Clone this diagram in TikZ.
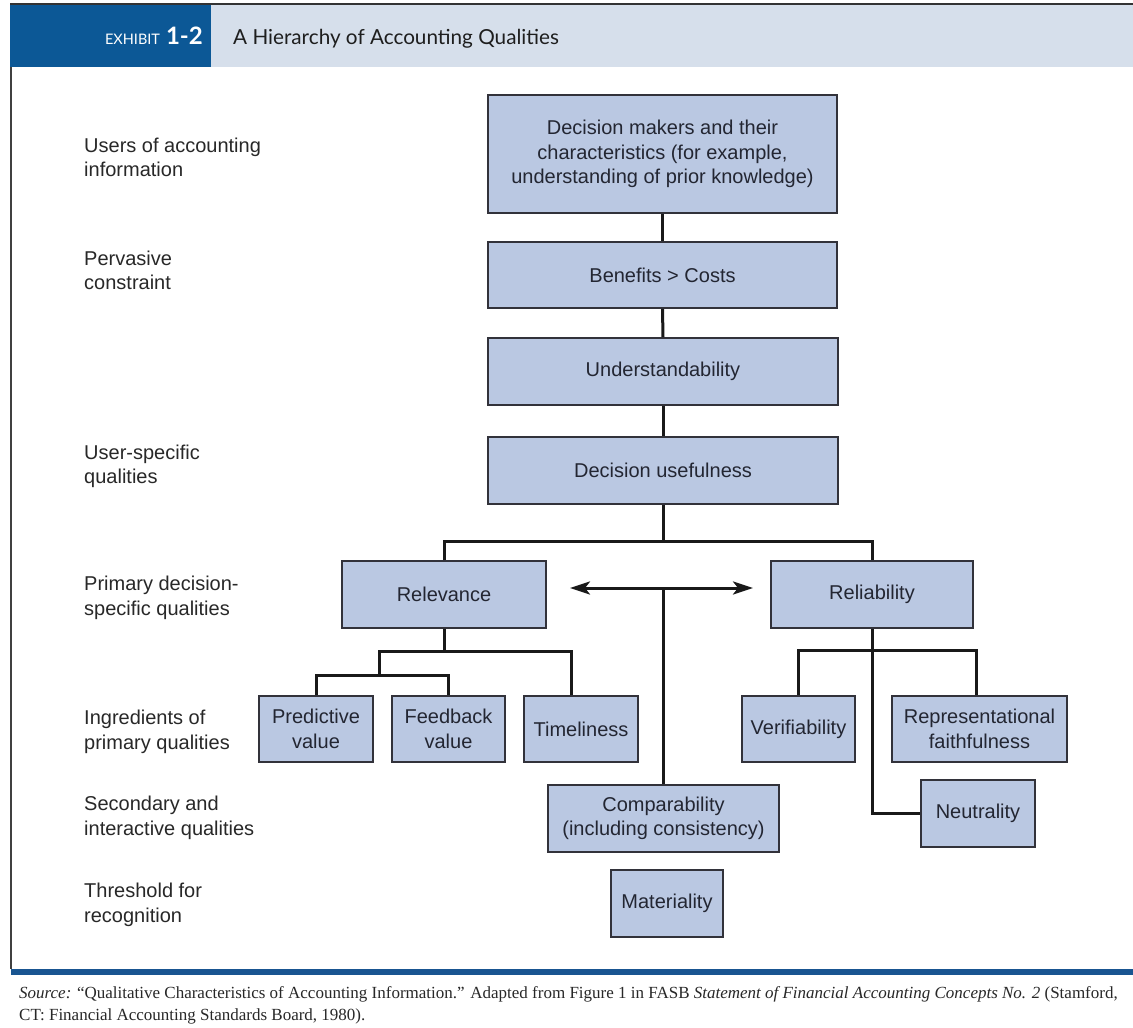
\documentclass[tikz,border=0pt]{standalone}
\usepackage{fontspec}
\setmainfont{Liberation Sans}
\newfontfamily\headfont{Lato}
\newfontfamily\srcfont{Liberation Serif}
\usetikzlibrary{arrows.meta}
\definecolor{headblue}{RGB}{12,88,150}
\definecolor{headlight}{RGB}{214,223,235}
\definecolor{boxfill}{RGB}{186,200,226}
\definecolor{boxline}{RGB}{50,50,58}
\definecolor{boxtext}{RGB}{35,38,50}
\definecolor{lbltext}{RGB}{40,40,40}
\definecolor{titletext}{RGB}{30,30,30}
\definecolor{connline}{RGB}{25,25,25}
\definecolor{bottomblue}{RGB}{25,85,145}
\begin{document}
\begin{tikzpicture}[x=1pt,y=-1pt,
  >={Stealth[length=20pt,width=13pt,inset=5pt]},
  qbox/.style={draw=boxline, fill=boxfill, line width=1.6pt, align=center, inner sep=0pt, text=boxtext, font=\fontsize{20}{24.5}\selectfont},
  lbl/.style={anchor=west, align=left, inner sep=0pt, text=lbltext, font=\fontsize{20}{24.5}\selectfont},
  conn/.style={line width=3pt, draw=connline, line join=miter}]
\useasboundingbox (0,0) rectangle (1133,1028);
\fill[white] (0,0) rectangle (1133,1028);
% header
\fill[headlight] (211,4) rectangle (1133,67);
\fill[headblue] (10,4) rectangle (211,67);
\draw[line width=1.5pt, black!80] (10,4) -- (1133,4);
\node[anchor=base east, text=white, inner sep=0pt] (exh) at (203,44) {\headfont{\fontsize{14.5}{14.5}\selectfont EXHIBIT}\hspace{6pt}{\fontsize{24}{24}\selectfont\bfseries 1-2}};
\node[anchor=base west, text=titletext, inner sep=0pt] (title) at (233,44) {\headfont\fontsize{20.7}{20.7}\selectfont A Hierarchy of Accounting Qualities};
% frame
\draw[line width=1.2pt, black!75] (11,67) -- (11,969);
\draw[line width=6pt, bottomblue] (11,972) -- (1133,972);
% left labels
\node[lbl] (l1) at (84,157.5) {Users of accounting\\information};
\node[lbl] (l2) at (84,270.5) {Pervasive\\constraint};
\node[lbl] (l3) at (84,466.5) {User-specific\\qualities};
\node[lbl] (l4) at (84,598) {Primary decision-\\specific qualities};
\node[lbl] (l5) at (84,732) {Ingredients of\\primary qualities};
\node[lbl] (l6) at (84,818) {Secondary and\\interactive qualities};
\node[lbl] (l7) at (84,905) {Threshold for\\recognition};
% boxes
\node[qbox, minimum width=349pt, minimum height=118pt] (dm) at (662.5,154) {Decision makers and their\\characteristics (for example,\\understanding of prior knowledge)};
\node[qbox, minimum width=349pt, minimum height=66pt] (bc) at (662.5,275) {Benefits > Costs};
\node[qbox, minimum width=350pt, minimum height=67pt] (un) at (663,371.5) {Understandability};
\node[qbox, minimum width=350pt, minimum height=67pt] (du) at (663,470.5) {Decision usefulness};
\node[qbox, minimum width=204pt, minimum height=67pt] (rel) at (444,594.5) {Relevance};
\node[qbox, minimum width=202pt, minimum height=67pt] (rlb) at (872,594.5) {Reliability};
\node[qbox, minimum width=114pt, minimum height=66pt] (pv) at (316,729) {Predictive\\value};
\node[qbox, minimum width=113pt, minimum height=66pt] (fv) at (448.5,729) {Feedback\\value};
\node[qbox, minimum width=114pt, minimum height=66pt] (tl) at (581,729) {Timeliness};
\node[qbox, minimum width=113pt, minimum height=66pt] (ve) at (798.5,729) {Verifiability};
\node[qbox, minimum width=175pt, minimum height=66pt] (rf) at (979.5,729) {Representational\\faithfulness};
\node[qbox, minimum width=114pt, minimum height=67pt] (ne) at (978,813.5) {Neutrality};
\node[qbox, minimum width=231pt, minimum height=67pt] (co) at (663.5,818.5) {Comparability\\(including consistency)};
\node[qbox, minimum width=112pt, minimum height=67pt] (ma) at (667,903.5) {Materiality};
% junctions
\coordinate (j1) at (663,541);
\coordinate (j2) at (444,651);
\coordinate (j3) at (379,675);
\coordinate (j4) at (872,650);
\coordinate (al) at (570,588);
\coordinate (ar) at (753,588);
% connectors
\draw[conn] (dm.south) -- (bc.north);
\draw[conn] (bc.south) -- (un.north);
\draw[conn] (un.south) -- (du.north);
\draw[conn] (du.south) -- (j1);
\draw[conn] (rel.north) |- (j1) -| (rlb.north);
\draw[conn] (rel.south) -- (j2);
\draw[conn] (pv.north) |- (j3) -| (fv.north);
\draw[conn] (j3) |- (j2) -| ([xshift=-10pt]tl.north);
\draw[conn] (rlb.south) |- (ne.west);
\draw[conn] (ve.north) |- (j4) -| ([xshift=-3pt]rf.north);
\draw[conn, <->] (al) -- (ar);
\draw[conn] (co.north) -- (co.north |- al);
% source
\node[anchor=base west, inner sep=0pt, text=lbltext] (src1) at (19,998) {\srcfont\fontsize{17}{22}\selectfont\textit{Source:} “Qualitative Characteristics of Accounting Information.” Adapted from Figure 1 in FASB \textit{Statement of Financial Accounting Concepts No. 2} (Stamford,};
\node[anchor=base west, inner sep=0pt, text=lbltext] (src2) at (19,1020) {\srcfont\fontsize{17}{22}\selectfont CT: Financial Accounting Standards Board, 1980).};
\end{tikzpicture}
\end{document}
